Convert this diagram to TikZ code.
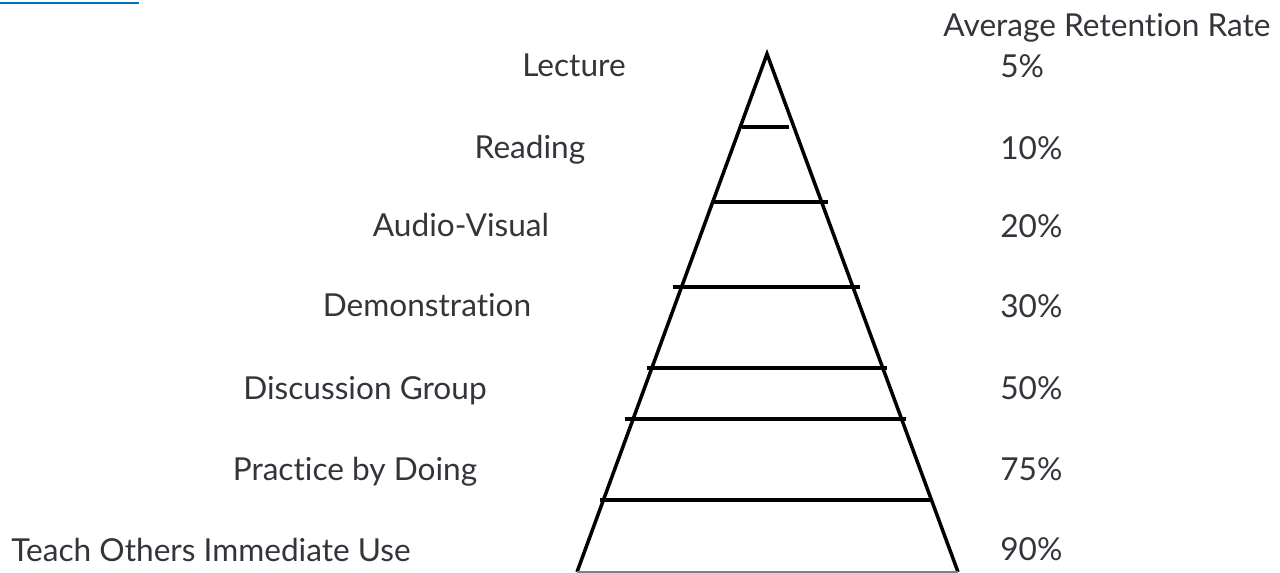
\documentclass[tikz,border=0pt]{standalone}
\usepackage{fontspec}
\setmainfont{Lato}[Ligatures=NoCommon]
\usetikzlibrary{positioning}
\definecolor{LabelGray}{RGB}{52,52,58}
\definecolor{LinkBlue}{RGB}{0,112,192}
\tikzset{
  level/.style={font=\fontsize{18}{20}\selectfont,text=LabelGray,inner sep=0pt,anchor=base},
  rate/.style={level,anchor=base west},
  side/.style={line width=2pt,black,line join=miter},
  rung/.style={line width=2pt,black}
}

\begin{document}
\begin{tikzpicture}[x=0.02cm,y=-0.02cm]
  \useasboundingbox (0,0) rectangle (1280,573);
  \draw[LinkBlue,line width=1.2pt] (0,3) -- (139,3);
  % pyramid
  \coordinate (apex) at (767,54);
  \coordinate (baseL) at (577,572);
  \coordinate (baseR) at (958,572);
  \draw[side] (baseL) -- (apex) -- (baseR);
  \draw[gray,line width=1pt] (baseL) -- (baseR);
  \foreach \n/\y/\l/\r in {1/127/742/789,2/202/714/828,3/287/673/860,
                           4/368/647/887,5/419/625/906,6/500/600/932}{
    \draw[rung] (\l,\y) coordinate (rungL\n) -- (\r,\y) coordinate (rungR\n);}
  % methods
  \foreach \name/\x/\y/\txt in {lecture/574/77/Lecture,reading/530/159/Reading,
      audio/461/237/Audio-Visual,demo/427/317/Demonstration,
      discussion/365/400/Discussion Group,practice/355/480/Practice by Doing,
      teach/211/561/Teach Others Immediate Use}{
    \node[level] (\name) at (\x,\y) {\txt};}
  % retention rates
  \node[level] (header) at (1107,37) {Average Retention Rate};
  \foreach \name/\y/\txt in {r5/78/5\%,r10/160/10\%,r20/238/20\%,r30/318/30\%,
                             r50/400/50\%,r75/480/75\%,r90/560/90\%}{
    \node[rate] (\name) at (1000,\y) {\txt};}
\end{tikzpicture}
\end{document}
